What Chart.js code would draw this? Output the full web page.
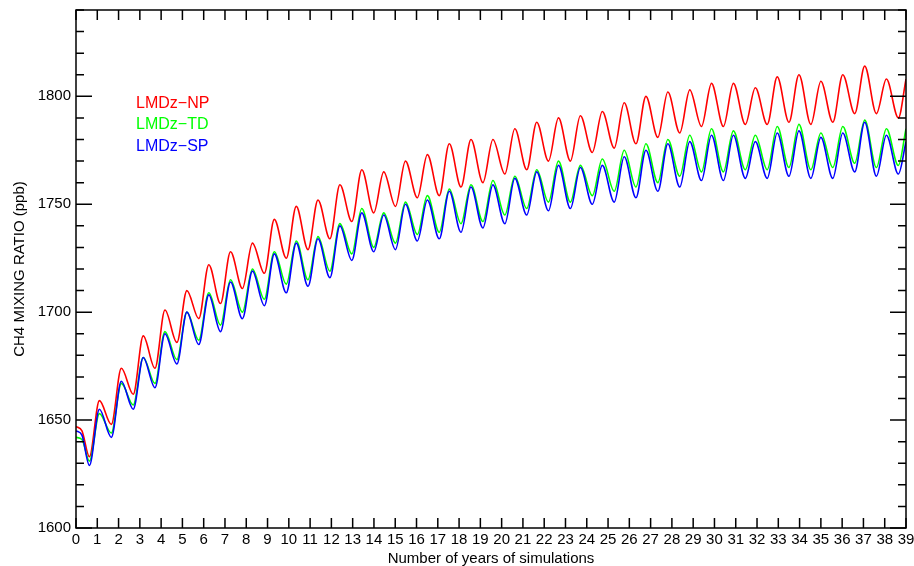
<!DOCTYPE html>
<html lang="en">
<head>
    <meta charset="UTF-8">
    <title>CH4 mixing ratio - LMDz simulations</title>
    <script src="https://cdn.jsdelivr.net/npm/chart.js"></script>
    <style>
        body {
            margin: 0;
            background: #ffffff;
        }
        canvas {
            display: block;
        }
    </style>
</head>
<body>
    <canvas id="ch4Chart" width="914" height="566"></canvas>

    <script>
        // years of the seasonal minima and maxima
        const troughYears = [0.63, 1.66, 2.69, 3.71, 4.74, 5.77, 6.79, 7.82, 8.85, 9.88, 10.90, 11.93, 12.96, 13.99, 15.01, 16.04, 17.07, 18.09, 19.12, 20.15, 21.18, 22.20, 23.23, 24.26, 25.29, 26.31, 27.34, 28.37, 29.39, 30.42, 31.45, 32.48, 33.50, 34.53, 35.56, 36.59, 37.61, 38.64];
        const peakYears = [1.10, 2.13, 3.16, 4.18, 5.21, 6.24, 7.26, 8.29, 9.32, 10.35, 11.37, 12.40, 13.43, 14.46, 15.48, 16.51, 17.54, 18.56, 19.59, 20.62, 21.65, 22.67, 23.70, 24.73, 25.76, 26.78, 27.81, 28.84, 29.86, 30.89, 31.92, 32.95, 33.97, 35.00, 36.03, 37.06, 38.08];
        const startYears = [0, 0.28];
        const endYear = 39;

        // LMDz-NP
        const npStart = [1647, 1645];
        const npTroughs = [1633, 1648, 1662, 1674, 1686, 1697, 1704, 1711, 1718, 1725, 1729, 1734, 1742, 1746, 1749, 1753, 1754, 1758, 1760, 1764, 1766, 1770, 1770, 1774, 1776, 1778, 1781, 1783, 1786, 1786, 1787, 1787, 1788, 1787, 1788, 1792, 1792, 1790];
        const npPeaks = [1659, 1674, 1689, 1701, 1710, 1722, 1728, 1732, 1743, 1749, 1752, 1759, 1766, 1765, 1770, 1773, 1778, 1780, 1780, 1785, 1788, 1790, 1791, 1793, 1797, 1800, 1802, 1803, 1806, 1806, 1804, 1809, 1810, 1807, 1810, 1814, 1808];
        const npEnd = 1808;

        // LMDz-TD
        const tdStart = [1642, 1641];
        const tdTroughs = [1631, 1644, 1657, 1667, 1678, 1687, 1694, 1700, 1706, 1713, 1715, 1719, 1727, 1730, 1732, 1736, 1737, 1741, 1742, 1745, 1748, 1751, 1751, 1754, 1756, 1758, 1760, 1763, 1765, 1765, 1766, 1766, 1767, 1766, 1767, 1769, 1767, 1768];
        const tdPeaks = [1653, 1667, 1679, 1691, 1700, 1709, 1715, 1720, 1728, 1733, 1735, 1741, 1748, 1746, 1751, 1754, 1757, 1759, 1761, 1763, 1766, 1770, 1768, 1771, 1775, 1778, 1780, 1782, 1785, 1784, 1782, 1786, 1787, 1783, 1786, 1789, 1785];
        const tdEnd = 1785;

        // LMDz-SP
        const spStart = [1645, 1643];
        const spTroughs = [1629, 1642, 1655, 1665, 1676, 1685, 1691, 1697, 1703, 1709, 1712, 1716, 1724, 1728, 1729, 1733, 1734, 1737, 1739, 1741, 1745, 1747, 1748, 1750, 1751, 1753, 1756, 1758, 1761, 1761, 1762, 1762, 1763, 1762, 1762, 1765, 1763, 1764];
        const spPeaks = [1655, 1668, 1679, 1690, 1700, 1708, 1714, 1719, 1727, 1732, 1734, 1740, 1746, 1745, 1750, 1752, 1756, 1758, 1759, 1762, 1765, 1768, 1767, 1768, 1772, 1775, 1778, 1779, 1782, 1782, 1779, 1783, 1784, 1781, 1783, 1788, 1782];
        const spEnd = 1779;

        function buildSeries(start, troughs, peaks, end) {
            const pts = start.map((v, i) => ({ x: startYears[i], y: v }));
            troughYears.forEach((t, k) => {
                pts.push({ x: t, y: troughs[k] });
                if (k < peaks.length) pts.push({ x: peakYears[k], y: peaks[k] });
            });
            pts.push({ x: endYear, y: end });
            return pts;
        }

        const frameAndTicks = {
            id: 'frameAndTicks',
            afterDraw(chart) {
                const ctx = chart.ctx;
                const area = chart.chartArea;
                const xs = chart.scales.x;
                const ys = chart.scales.y;
                ctx.save();
                ctx.strokeStyle = '#000';
                ctx.lineWidth = 1.5;
                ctx.strokeRect(area.left, area.top, area.right - area.left, area.bottom - area.top);
                ctx.beginPath();
                for (let yr = 0; yr <= 39; yr++) {
                    const px = xs.getPixelForValue(yr);
                    ctx.moveTo(px, area.bottom);
                    ctx.lineTo(px, area.bottom - 10);
                    ctx.moveTo(px, area.top);
                    ctx.lineTo(px, area.top + 10);
                }
                for (let v = 1600; v <= 1840; v += 10) {
                    const py = ys.getPixelForValue(v);
                    const len = v % 50 === 0 ? 16 : 8;
                    ctx.moveTo(area.left, py);
                    ctx.lineTo(area.left + len, py);
                    ctx.moveTo(area.right, py);
                    ctx.lineTo(area.right - len, py);
                }
                ctx.stroke();

                // legend as coloured text
                ctx.font = '16px "Liberation Sans", Arial, sans-serif';
                ctx.textAlign = 'left';
                ctx.textBaseline = 'alphabetic';
                chart.data.datasets.forEach((ds, n) => {
                    ctx.fillStyle = ds.borderColor;
                    ctx.fillText(ds.label, 136, 108 + n * 21.3);
                });
                ctx.restore();
            }
        };

        const tickFont = { family: '"Liberation Sans", Arial, sans-serif', size: 15 };

        new Chart(document.getElementById('ch4Chart').getContext('2d'), {
            type: 'line',
            data: {
                datasets: [
                    {
                        label: 'LMDz\u2212NP',
                        data: buildSeries(npStart, npTroughs, npPeaks, npEnd),
                        borderColor: '#ff0000',
                        order: 3
                    },
                    {
                        label: 'LMDz\u2212TD',
                        data: buildSeries(tdStart, tdTroughs, tdPeaks, tdEnd),
                        borderColor: '#00ff00',
                        order: 2
                    },
                    {
                        label: 'LMDz\u2212SP',
                        data: buildSeries(spStart, spTroughs, spPeaks, spEnd),
                        borderColor: '#0000ff',
                        order: 1
                    }
                ]
            },
            options: {
                responsive: false,
                animation: false,
                layout: { padding: { top: 10, right: 8, left: 0, bottom: 0 } },
                elements: {
                    point: { radius: 0 },
                    line: { borderWidth: 1.6, cubicInterpolationMode: 'monotone', fill: false }
                },
                plugins: {
                    legend: { display: false },
                    tooltip: { enabled: false }
                },
                scales: {
                    x: {
                        type: 'linear',
                        min: 0,
                        max: 39,
                        grid: { display: false, drawTicks: false },
                        border: { display: false },
                        ticks: { stepSize: 1, padding: 3, color: '#000', font: tickFont, maxRotation: 0, autoSkip: false },
                        title: {
                            display: true,
                            text: 'Number of years of simulations',
                            color: '#000',
                            font: tickFont,
                            padding: { top: 0, bottom: -2 }
                        },
                        afterFit(scale) {
                            scale.height = 38;
                            scale.paddingLeft = 0;
                            scale.paddingRight = 0;
                        }
                    },
                    y: {
                        min: 1600,
                        max: 1840,
                        grid: { display: false, drawTicks: false },
                        border: { display: false },
                        ticks: {
                            stepSize: 50,
                            includeBounds: false,
                            padding: 5,
                            color: '#000',
                            font: tickFont,
                            callback: v => String(v)
                        },
                        title: {
                            display: true,
                            text: 'CH4 MIXING RATIO (ppb)',
                            color: '#000',
                            font: tickFont,
                            padding: { top: 11, bottom: 0 }
                        },
                        afterFit(scale) {
                            scale.width = 76;
                            scale.paddingTop = 0;
                            scale.paddingBottom = 0;
                        }
                    }
                }
            },
            plugins: [frameAndTicks]
        });
    </script>
</body>
</html>
